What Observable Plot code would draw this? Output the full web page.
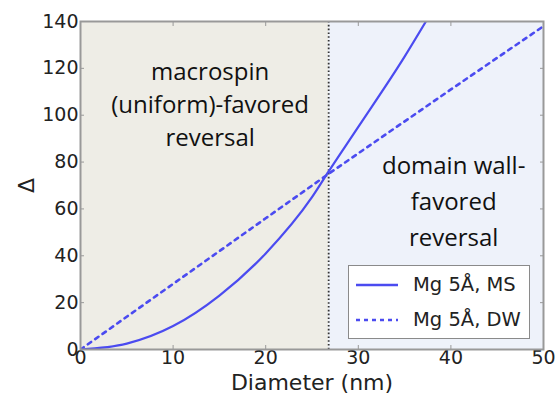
<!DOCTYPE html>
<html>
<head>
<meta charset="utf-8">
<script src="https://cdn.jsdelivr.net/npm/d3@7"></script>
<script src="https://cdn.jsdelivr.net/npm/@observablehq/plot@0.6"></script>
<style>
  html, body { margin: 0; padding: 0; background: #fff; }
  #wrap { position: relative; width: 556px; height: 396px; }
  #legend { position: absolute; left: 348px; top: 265px; width: 182px; height: 74px;
    border: 1.5px solid #8a8a8a; background: #fff; box-sizing: border-box;
    font-family: "DejaVu Sans", sans-serif; font-size: 19.5px; color: #222; }
  #legend .row { position: absolute; left: 6px; display: flex; align-items: center; }
  #legend svg { margin-right: 14px; }
</style>
</head>
<body>
<div id="wrap"></div>
<script>
// Data
const msDiameter = [0, 5, 10, 15, 20, 25, 26.8, 30, 35, 37.3];
const msDelta    = [0, 2.5, 10, 23, 41, 65, 76, 95, 125, 140];
const dwDiameter = [0, 10, 20, 26.8, 40, 50];
const dwDelta    = [0, 28, 56, 75, 111, 138];
const boundary = 26.8;
const xTicks = [0, 10, 20, 30, 40, 50];
const yTicks = [0, 20, 40, 60, 80, 100, 120, 140];
const seriesNames = ["Mg 5Å, MS", "Mg 5Å, DW"];
const regionLabels = ["macrospin\n(uniform)-favored\nreversal", "domain wall-\nfavored\nreversal"];

const blue = "#4b4bf0";
const ms = msDiameter.map((d, i) => ({d, v: msDelta[i]}));
const dw = dwDiameter.map((d, i) => ({d, v: dwDelta[i]}));
const regions = [
  {x1: 0, x2: boundary, fill: "#eeede6"},
  {x1: boundary, x2: 50, fill: "#eef2fa"}
];
const labels = [
  {x: 14, y: 105.4, text: regionLabels[0]},
  {x: 40.3, y: 64.6, text: regionLabels[1]}
];

const chart = Plot.plot({
  width: 556,
  height: 396,
  marginLeft: 80,
  marginRight: 13,
  marginTop: 21,
  marginBottom: 47,
  style: {fontFamily: "DejaVu Sans, sans-serif", fontSize: "19px", color: "#222", background: "#fff"},
  x: {domain: [0, 50]},
  y: {domain: [0, 140]},
  marks: [
    Plot.rectY(regions, {x1: "x1", x2: "x2", y1: 0, y2: 140, fill: d => d.fill}),
    Plot.text(labels.slice(0, 1), {x: "x", y: "y", text: "text", fontSize: 24, lineHeight: 1.38,
      fontFamily: "Open Sans, sans-serif", fill: "#111"}),
    Plot.text(labels.slice(1), {x: "x", y: "y", text: "text", fontSize: 24, lineHeight: 1.5,
      fontFamily: "Open Sans, sans-serif", fill: "#111"}),
    Plot.ruleX([boundary], {stroke: "#333", strokeWidth: 1.8, strokeDasharray: "1.6,2.2"}),
    Plot.axisX({ticks: xTicks, tickSize: 0, tickPadding: 1, fontSize: 19, label: "Diameter (nm)",
      labelAnchor: "center", labelOffset: 40, labelArrow: "none"}),
    Plot.axisY({ticks: yTicks, tickSize: 0, tickPadding: 2, fontSize: 19, label: "Δ",
      labelAnchor: "center", labelOffset: 62, labelArrow: "none"}),
    Plot.axisX({ticks: xTicks, anchor: "bottom", tickSize: -4, text: null, label: null, stroke: "#999"}),
    Plot.axisX({ticks: xTicks, anchor: "top", tickSize: -4, text: null, label: null, stroke: "#999"}),
    Plot.axisY({ticks: yTicks, anchor: "left", tickSize: -4, text: null, label: null, stroke: "#999"}),
    Plot.axisY({ticks: yTicks, anchor: "right", tickSize: -4, text: null, label: null, stroke: "#999"}),
    Plot.line(dw, {x: "d", y: "v", stroke: blue, strokeWidth: 2.6, strokeDasharray: "4,5", clip: true}),
    Plot.line(ms, {x: "d", y: "v", stroke: blue, strokeWidth: 2.2, curve: "monotone-x", clip: true}),
    Plot.frame({stroke: "#999", strokeWidth: 2})
  ]
});
chart.querySelectorAll("g[aria-label='x-axis label'] text, g[aria-label='y-axis label'] text").forEach(t => t.setAttribute("font-size", "22"));
const wrap = document.getElementById("wrap");
wrap.appendChild(chart);

const legend = document.createElement("div");
legend.id = "legend";
const dashes = ["none", "4,4"];
seriesNames.forEach((name, i) => {
  const row = document.createElement("div");
  row.className = "row";
  row.style.top = (i === 0 ? 7 : 42) + "px";
  row.innerHTML = `<svg width="44" height="16"><line x1="1" x2="43" y1="8" y2="8" stroke="${blue}" stroke-width="2.6" stroke-dasharray="${dashes[i]}"/></svg><span>${name}</span>`;
  legend.appendChild(row);
});
wrap.appendChild(legend);
</script>
</body>
</html>
